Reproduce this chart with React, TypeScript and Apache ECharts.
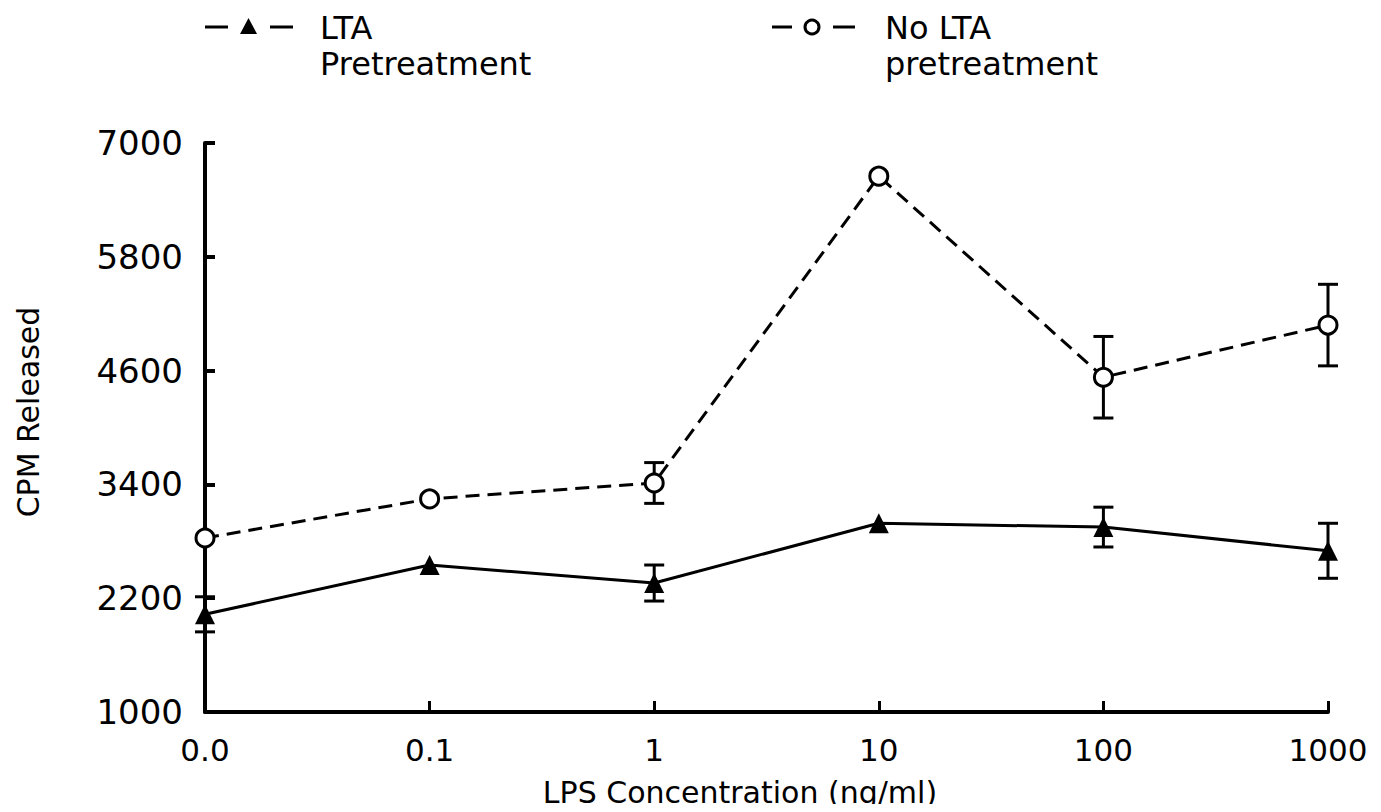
import React, { useEffect, useRef } from "react";
import * as echarts from "echarts";

const categories = ["0.0", "0.1", "1", "10", "100", "1000"];
const ltaMean = [2030, 2550, 2360, 2990, 2950, 2700];
const ltaErr = [185, 0, 190, 0, 210, 290];
const noLtaMean = [2835, 3247, 3415, 6650, 4530, 5080];
const noLtaErr = [0, 0, 215, 0, 430, 430];
const yTicks = { min: 1000, max: 7000, interval: 1200 };

const FONT = "DejaVu Sans";

function errorRender(params: any, api: any) {
  const i = api.value(0);
  const m = api.value(1);
  const e = api.value(2);
  if (!e) return null;
  const top = api.coord([i, m + e]);
  const bot = api.coord([i, m - e]);
  const x = top[0];
  const w = 10;
  const style = { stroke: "#000", lineWidth: 3 };
  return {
    type: "group",
    children: [
      { type: "line", shape: { x1: x, y1: top[1], x2: x, y2: bot[1] }, style },
      { type: "line", shape: { x1: x - w, y1: top[1], x2: x + w, y2: top[1] }, style },
      { type: "line", shape: { x1: x - w, y1: bot[1], x2: x + w, y2: bot[1] }, style },
    ],
  };
}

export default function App() {
  const ref = useRef<HTMLDivElement>(null);
  useEffect(() => {
    const chart = echarts.init(ref.current!, null, { renderer: "svg" });
    const textStyle = { fill: "#000", fontFamily: FONT, fontSize: 32 };
    const sym = { stroke: "#000", lineWidth: 3 };
    chart.setOption({
      animation: false,
      backgroundColor: "#fff",
      grid: { left: 205, right: 53, top: 143, bottom: 100 },
      xAxis: {
        type: "category",
        data: categories,
        boundaryGap: false,
        axisLine: { lineStyle: { color: "#000", width: 4 } },
        axisTick: { inside: true, length: 11, lineStyle: { color: "#000", width: 3 } },
        axisLabel: { color: "#000", fontFamily: FONT, fontSize: 31, margin: 22 },
        splitLine: { show: false },
      },
      yAxis: {
        type: "value",
        min: yTicks.min,
        max: yTicks.max,
        interval: yTicks.interval,
        axisLine: { show: true, lineStyle: { color: "#000", width: 4 } },
        axisTick: { show: true, inside: true, length: 10, lineStyle: { color: "#000", width: 4 } },
        axisLabel: {
          color: "#000",
          fontFamily: FONT,
          fontSize: 34,
          margin: 22,
          formatter: (v: number) => String(v),
        },
        splitLine: { show: false },
      },
      series: [
        {
          type: "custom",
          renderItem: errorRender,
          data: ltaMean.map((m, i) => [i, m, ltaErr[i]]),
          z: 1,
        },
        {
          type: "custom",
          renderItem: errorRender,
          data: noLtaMean.map((m, i) => [i, m, noLtaErr[i]]),
          z: 1,
        },
        {
          name: "LTA Pretreatment",
          type: "line",
          data: ltaMean,
          symbol: "triangle",
          symbolSize: 20,
          lineStyle: { color: "#000", width: 3, type: "solid" },
          itemStyle: { color: "#000" },
          z: 3,
        },
        {
          name: "No LTA pretreatment",
          type: "line",
          data: noLtaMean,
          symbol: "circle",
          symbolSize: 18,
          lineStyle: { color: "#000", width: 3, type: [14, 8] },
          itemStyle: { color: "#fff", borderColor: "#000", borderWidth: 3 },
          z: 3,
        },
      ],
      graphic: [
        { type: "line", shape: { x1: 205, y1: 27, x2: 228, y2: 27 }, style: sym },
        { type: "polygon", shape: { points: [[248.5, 18], [240, 34], [257, 34]] }, style: { fill: "#000" } },
        { type: "line", shape: { x1: 270, y1: 27, x2: 293, y2: 27 }, style: sym },
        { type: "text", x: 320, y: 28, style: { ...textStyle, text: "LTA", verticalAlign: "middle" } },
        { type: "text", x: 320, y: 64, style: { ...textStyle, text: "Pretreatment", verticalAlign: "middle" } },
        { type: "line", shape: { x1: 772, y1: 27, x2: 792, y2: 27 }, style: sym },
        { type: "circle", shape: { cx: 812, cy: 27, r: 7 }, style: { fill: "#fff", stroke: "#000", lineWidth: 3 } },
        { type: "line", shape: { x1: 833, y1: 27, x2: 855, y2: 27 }, style: sym },
        { type: "text", x: 885, y: 28, style: { ...textStyle, text: "No LTA", verticalAlign: "middle" } },
        { type: "text", x: 885, y: 64, style: { ...textStyle, text: "pretreatment", verticalAlign: "middle" } },
        {
          type: "text",
          x: 28,
          y: 412,
          rotation: Math.PI / 2,
          style: { ...textStyle, fontSize: 30, text: "CPM Released", align: "center", verticalAlign: "middle" },
        },
        {
          type: "text",
          x: 740,
          y: 792,
          style: { ...textStyle, fontSize: 30, text: "LPS Concentration (ng/ml)", align: "center", verticalAlign: "middle" },
        },
      ],
    });
    return () => chart.dispose();
  }, []);
  return <div ref={ref} style={{ width: 1381, height: 812, margin: -8 }} />;
}
